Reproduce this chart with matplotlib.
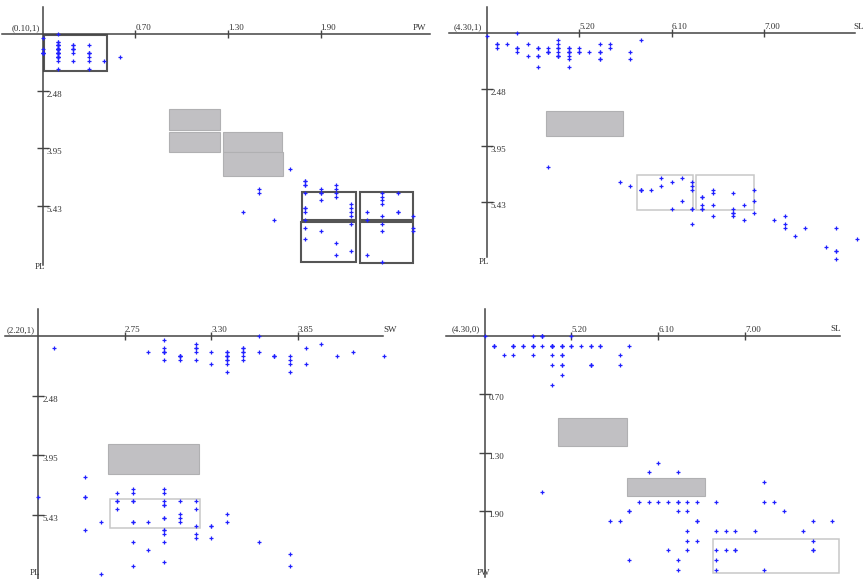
import numpy as np
import matplotlib
matplotlib.use("Agg")
import matplotlib.pyplot as plt
from matplotlib.patches import Rectangle

# Iris measurements that are drawn (setosa + virginica; versicolor is summarised by grey boxes)
setosa_sl = [5.1, 4.9, 4.7, 4.6, 5.0, 5.4, 4.6, 5.0, 4.4, 4.9, 5.4, 4.8, 4.8, 4.3, 5.8, 5.7, 5.4,
             5.1, 5.7, 5.1, 5.4, 5.1, 4.6, 5.1, 4.8, 5.0, 5.0, 5.2, 5.2, 4.7, 4.8, 5.4, 5.2, 5.5,
             4.9, 5.0, 5.5, 4.9, 4.4, 5.1, 5.0, 4.5, 4.4, 5.0, 5.1, 4.8, 5.1, 4.6, 5.3, 5.0]
setosa_sw = [3.5, 3.0, 3.2, 3.1, 3.6, 3.9, 3.4, 3.4, 2.9, 3.1, 3.7, 3.4, 3.0, 3.0, 4.0, 4.4, 3.9,
             3.5, 3.8, 3.8, 3.4, 3.7, 3.6, 3.3, 3.4, 3.0, 3.4, 3.5, 3.4, 3.2, 3.1, 3.4, 4.1, 4.2,
             3.1, 3.2, 3.5, 3.1, 3.0, 3.4, 3.5, 2.3, 3.2, 3.5, 3.8, 3.0, 3.8, 3.2, 3.7, 3.3]
setosa_pl = [1.4, 1.4, 1.3, 1.5, 1.4, 1.7, 1.4, 1.5, 1.4, 1.5, 1.5, 1.6, 1.4, 1.1, 1.2, 1.5, 1.3,
             1.4, 1.7, 1.5, 1.7, 1.5, 1.0, 1.7, 1.9, 1.6, 1.6, 1.5, 1.4, 1.6, 1.6, 1.5, 1.5, 1.4,
             1.5, 1.2, 1.3, 1.5, 1.3, 1.5, 1.3, 1.3, 1.3, 1.6, 1.9, 1.4, 1.6, 1.4, 1.5, 1.4]
setosa_pw = [0.2, 0.2, 0.2, 0.2, 0.2, 0.4, 0.3, 0.2, 0.2, 0.1, 0.2, 0.2, 0.1, 0.1, 0.2, 0.4, 0.4,
             0.3, 0.3, 0.3, 0.2, 0.4, 0.2, 0.5, 0.2, 0.2, 0.4, 0.2, 0.2, 0.2, 0.2, 0.4, 0.1, 0.2,
             0.1, 0.2, 0.2, 0.1, 0.2, 0.2, 0.3, 0.3, 0.2, 0.6, 0.4, 0.3, 0.2, 0.2, 0.2, 0.2]

virginica_sl = [6.3, 5.8, 7.1, 6.3, 6.5, 7.6, 4.9, 7.3, 6.7, 7.2, 6.5, 6.4, 6.8, 5.7, 5.8, 6.4, 6.5,
                7.7, 7.7, 6.0, 6.9, 5.6, 7.7, 6.3, 6.7, 7.2, 6.2, 6.1, 6.4, 7.2, 7.4, 7.9, 6.4, 6.3,
                6.1, 7.7, 6.3, 6.4, 6.0, 6.9, 6.7, 6.9, 5.8, 6.8, 6.7, 6.7, 6.3, 6.5, 6.2, 5.9]
virginica_sw = [3.3, 2.7, 3.0, 2.9, 3.0, 3.0, 2.5, 2.9, 2.5, 3.6, 3.2, 2.7, 3.0, 2.5, 2.8, 3.2, 3.0,
                3.8, 2.6, 2.2, 3.2, 2.8, 2.8, 2.7, 3.3, 3.2, 2.8, 3.0, 2.8, 3.0, 2.8, 3.8, 2.8, 2.8,
                2.6, 3.0, 3.4, 3.1, 3.0, 3.1, 3.1, 3.1, 2.7, 3.2, 3.3, 3.0, 2.5, 3.0, 3.4, 3.0]
virginica_pl = [6.0, 5.1, 5.9, 5.6, 5.8, 6.6, 4.5, 6.3, 5.8, 6.1, 5.1, 5.3, 5.5, 5.0, 5.1, 5.3, 5.5,
                6.7, 6.9, 5.0, 5.7, 4.9, 6.7, 4.9, 5.7, 6.0, 4.8, 4.9, 5.6, 5.8, 6.1, 6.4, 5.6, 5.1,
                5.6, 6.1, 5.6, 5.5, 4.8, 5.4, 5.6, 5.1, 5.1, 5.9, 5.7, 5.2, 5.0, 5.2, 5.4, 5.1]
virginica_pw = [2.5, 1.9, 2.1, 1.8, 2.2, 2.1, 1.7, 1.8, 1.8, 2.5, 2.0, 1.9, 2.1, 2.0, 2.4, 2.3, 1.8,
                2.2, 2.3, 1.5, 2.3, 2.0, 2.0, 1.8, 2.1, 1.8, 1.8, 1.8, 2.1, 1.6, 1.9, 2.0, 2.2, 1.5,
                1.4, 2.3, 2.4, 1.8, 1.8, 2.1, 2.4, 2.3, 1.9, 2.3, 2.5, 2.3, 1.9, 2.0, 2.3, 1.8]

cols = {
    "SL": setosa_sl + virginica_sl,
    "SW": setosa_sw + virginica_sw,
    "PL": setosa_pl + virginica_pl,
    "PW": setosa_pw + virginica_pw,
}

# axis variables / origin labels / ticks per panel
p1_vars = ("PW", "PL"); p1_origin = (0.10, 1.0); p1_label = "(0.10,1)"
p1_xticks = [0.70, 1.30, 1.90]; p1_yticks = [2.48, 3.95, 5.43]
p2_vars = ("SL", "PL"); p2_origin = (4.30, 1.0); p2_label = "(4.30,1)"
p2_xticks = [5.20, 6.10, 7.00]; p2_yticks = [2.48, 3.95, 5.43]
p3_vars = ("SW", "PL"); p3_origin = (2.20, 1.0); p3_label = "(2.20,1)"
p3_xticks = [2.75, 3.30, 3.85]; p3_yticks = [2.48, 3.95, 5.43]
p4_vars = ("SL", "PW"); p4_origin = (4.30, 0.10); p4_label = "(4.30,0)"
p4_xticks = [5.20, 6.10, 7.00]; p4_yticks = [0.70, 1.30, 1.90]

# boxes in data units: (x_lo, x_hi, y_lo, y_hi)
p1_grey = [(0.92, 1.25, 2.94, 3.48), (0.92, 1.25, 3.53, 4.04),
           (1.27, 1.65, 3.53, 4.04), (1.27, 1.655, 4.06, 4.66)]
p1_boxes = [(0.11, 0.515, 1.02, 1.95), (1.778, 2.128, 5.08, 5.80), (2.156, 2.501, 5.08, 5.80),
            (1.774, 2.128, 5.86, 6.90), (2.158, 2.501, 5.86, 6.92)]
p2_grey = [(4.88, 5.625, 3.05, 3.69)]
p2_boxes = [(5.767, 6.312, 4.73, 5.62), (6.338, 6.905, 4.73, 5.62)]
p3_grey = [(2.643, 3.222, 3.667, 4.427)]
p3_boxes = [(2.658, 3.225, 5.03, 5.77)]
p4_grey = [(5.062, 5.774, 0.943, 1.227), (5.780, 6.582, 1.555, 1.743)]
p4_boxes = [(6.665, 7.971, 2.187, 2.530)]

W, H = 865, 579
FONT = dict(family="Liberation Serif", fontsize=6.5, color="#333333")
AXC = "#444444"


def panel(fig, box, o_px, scale, origin, xspan, yspan):
    L, T, R, B = box
    ox, oy = o_px
    sx, sy = scale
    x0, y0 = origin
    ax = fig.add_axes([L / W, 1 - B / H, (R - L) / W, (B - T) / H])
    ax.set_xlim(x0 + (L - ox) / sx, x0 + (R - ox) / sx)
    ax.set_ylim(y0 + (B - oy) / sy, y0 + (T - oy) / sy)
    ax.axis("off")
    fx = lambda p: x0 + (p - ox) / sx
    fy = lambda p: y0 + (p - oy) / sy
    ax.plot([fx(xspan[0]), fx(xspan[1])], [y0, y0], color=AXC, lw=1.1, zorder=2)
    ax.plot([x0, x0], [fy(yspan[0]), fy(yspan[1])], color=AXC, lw=1.1, zorder=2)
    return ax, fx, fy


def draw(ax, fx, fy, vars_, origin, olabel, xticks, yticks, grey, boxes, box_style,
         olab_px, xname_px, yname_px):
    x0, y0 = origin
    xv, yv = vars_
    for (a, b, c, d) in grey:
        ax.add_patch(Rectangle((a, c), b - a, d - c, facecolor="#c1c0c3",
                               edgecolor="#b0b0b2", lw=0.8, zorder=1))
    for (a, b, c, d) in boxes:
        ax.add_patch(Rectangle((a, c), b - a, d - c, facecolor="none", zorder=1, **box_style))
    ax.plot(xticks, [y0] * len(xticks), ls="none", marker="|", ms=6, mew=1.0, color=AXC, zorder=2)
    ax.plot([x0] * len(yticks), yticks, ls="none", marker="_", ms=9, mew=1.0, color=AXC, zorder=2)
    for t in xticks:
        ax.annotate(f"{t:.2f}", (t, y0), xytext=(0, 2), textcoords="offset pixels",
                    ha="left", va="bottom", **FONT)
    for t in yticks:
        ax.annotate(f"{t:.2f}", (x0, t), xytext=(4, -4), textcoords="offset pixels",
                    ha="left", va="center", **FONT)
    ax.text(fx(olab_px[0]), fy(olab_px[1]), olabel, ha="right", va="bottom", **FONT)
    ax.text(fx(xname_px[0]), fy(xname_px[1]), xv, ha="left", va="bottom", **FONT)
    ax.text(fx(yname_px[0]), fy(yname_px[1]), yv, ha="right", va="center", **FONT)
    ax.plot(cols[xv], cols[yv], ls="none", marker="+", ms=2.4, mew=0.9,
            color="#2020ff", zorder=4, clip_on=False)


fig = plt.figure(figsize=(W / 100, H / 100), dpi=100)
dark = dict(edgecolor="#555555", lw=1.5)
light = dict(edgecolor="#c8c8c8", lw=1.1)

ax, fx, fy = panel(fig, (0, 0, 432, 290), (42.6, 33.8), (154.4, 38.76), p1_origin, (2, 430), (7, 265))
draw(ax, fx, fy, p1_vars, p1_origin, p1_label, p1_xticks, p1_yticks, p1_grey, p1_boxes, dark,
     (40, 32), (413, 32), (45, 267))

ax, fx, fy = panel(fig, (432, 0, 865, 290), (486.5, 32.6), (102.8, 38.3), p2_origin, (449, 855), (7, 257))
draw(ax, fx, fy, p2_vars, p2_origin, p2_label, p2_xticks, p2_yticks, p2_grey, p2_boxes, light,
     (482, 31), (853, 31), (489, 262))

ax, fx, fy = panel(fig, (0, 290, 432, 579), (38.3, 336.2), (157.3, 40.3), p3_origin, (5, 383), (309, 579))
draw(ax, fx, fy, p3_vars, p3_origin, p3_label, p3_xticks, p3_yticks, p3_grey, p3_boxes, light,
     (35, 334), (383, 334), (40, 573))

ax, fx, fy = panel(fig, (432, 290, 865, 579), (484.5, 335.8), (96.5, 97.5), p4_origin, (446, 840), (309, 577))
draw(ax, fx, fy, p4_vars, p4_origin, p4_label, p4_xticks, p4_yticks, p4_grey, p4_boxes, light,
     (480, 333), (830, 333), (490, 573))

fig.savefig("out.png", dpi=100)
